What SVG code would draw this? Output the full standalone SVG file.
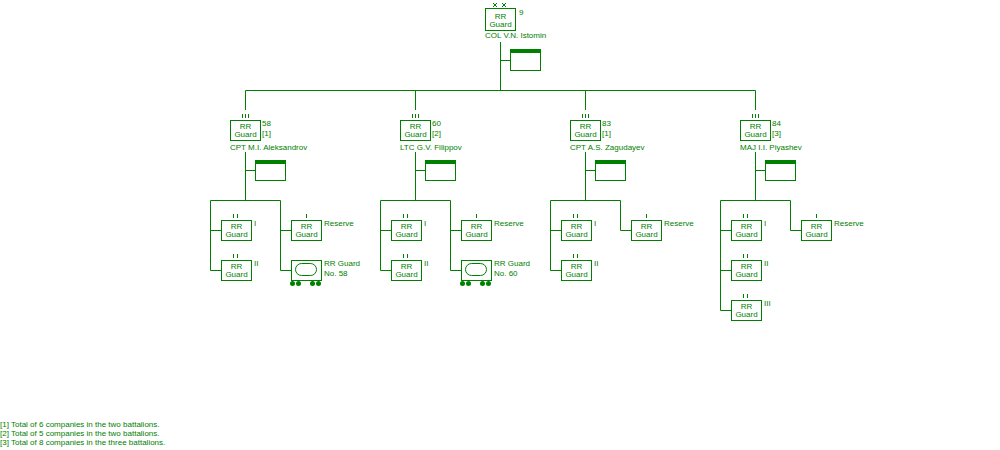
<svg xmlns="http://www.w3.org/2000/svg" width="1000" height="450" viewBox="0 0 1000 450">
<style>
text{font-family:"Liberation Sans",Arial,sans-serif;font-size:8px;fill:#008000}
.c{text-anchor:middle}
.b{fill:#fff;stroke:#008000;stroke-width:1}
.band{fill:#008000}
.l{fill:none;stroke:#008000;stroke-width:1}
.w{fill:#008000}
</style>
<rect width="1000" height="450" fill="#fff"/>
<g id="connectors" class="l">
<path d="M245.5 90.5H755.5M500.5 42V90.5M500.5 60.5H510"/>
<path d="M245.5 90.5V110M245.5 152V200.5M245.5 170.5H255M210.5 200.5H280.5M210.5 200.5V270.5M210.5 230.5H221M210.5 270.5H221M280.5 200.5V270.5M280.5 230.5H291M280.5 270.5H291"/>
<path d="M415.5 90.5V110M415.5 152V200.5M415.5 170.5H425M380.5 200.5H450.5M380.5 200.5V270.5M380.5 230.5H391M380.5 270.5H391M450.5 200.5V270.5M450.5 230.5H461M450.5 270.5H461"/>
<path d="M585.5 90.5V110M585.5 152V200.5M585.5 170.5H595M550.5 200.5H620.5M550.5 200.5V270.5M550.5 230.5H561M550.5 270.5H561M620.5 200.5V230.5M620.5 230.5H631"/>
<path d="M755.5 90.5V110M755.5 152V200.5M755.5 170.5H765M720.5 200.5H790.5M720.5 200.5V310.5M720.5 230.5H731M720.5 270.5H731M720.5 310.5H731M790.5 200.5V230.5M790.5 230.5H801"/>
</g>
<g id="regiment">
<path class="l" d="M493 3L497 7M497 3L493 7M502 3L506 7M506 3L502 7"/>
<rect class="b" x="485.5" y="8.5" width="30" height="22"/>
<text class="c" x="500.5" y="19">RR</text><text class="c" x="500.5" y="27">Guard</text>
<text x="519" y="15">9</text>
<text x="485" y="38">COL V.N. Istomin</text>
</g>
<g id="regiment-staff"><rect class="b" x="510.5" y="49.5" width="30" height="21"/><rect class="band" x="510" y="49" width="31" height="4"/></g>

<g id="bn58">
<path class="l" d="M242.5 114V118M245.5 114V118M248.5 114V118"/>
<rect class="b" x="230.5" y="120.5" width="30" height="20"/>
<text class="c" x="245.5" y="129">RR</text><text class="c" x="245.5" y="137">Guard</text>
<text x="262" y="126">58</text><text x="262" y="136">[1]</text>
<text x="230" y="150">CPT M.I. Aleksandrov</text>
</g>
<g id="bn58-staff"><rect class="b" x="255.5" y="160.5" width="30" height="20"/><rect class="band" x="255" y="160" width="31" height="4"/></g>
<g id="bn58-co1"><path class="l" d="M233.5 214V218M237.5 214V218"/><rect class="b" x="221.5" y="220.5" width="30" height="20"/><text class="c" x="236.5" y="229">RR</text><text class="c" x="236.5" y="237">Guard</text><text x="254" y="226">I</text></g>
<g id="bn58-co2"><path class="l" d="M233.5 254V258M237.5 254V258"/><rect class="b" x="221.5" y="260.5" width="30" height="20"/><text class="c" x="236.5" y="269">RR</text><text class="c" x="236.5" y="277">Guard</text><text x="254" y="266">II</text></g>
<g id="bn58-res"><path class="l" d="M306.5 214V218"/><rect class="b" x="291.5" y="220.5" width="30" height="20"/><text class="c" x="306.5" y="229">RR</text><text class="c" x="306.5" y="237">Guard</text><text x="324" y="226">Reserve</text></g>
<g id="bn58-train"><rect class="b" x="291.5" y="260.5" width="30" height="20"/><rect class="l" x="295.5" y="263.5" width="21" height="12" rx="6"/><circle class="w" cx="292.5" cy="283.5" r="2.5"/><circle class="w" cx="298.5" cy="283.5" r="2.5"/><circle class="w" cx="312.5" cy="283.5" r="2.5"/><circle class="w" cx="318.5" cy="283.5" r="2.5"/><text x="324" y="266">RR Guard</text><text x="324" y="276">No. 58</text></g>

<g id="bn60">
<path class="l" d="M412.5 114V118M415.5 114V118M418.5 114V118"/>
<rect class="b" x="400.5" y="120.5" width="30" height="20"/>
<text class="c" x="415.5" y="129">RR</text><text class="c" x="415.5" y="137">Guard</text>
<text x="432" y="126">60</text><text x="432" y="136">[2]</text>
<text x="400" y="150">LTC G.V. Filippov</text>
</g>
<g id="bn60-staff"><rect class="b" x="425.5" y="160.5" width="30" height="20"/><rect class="band" x="425" y="160" width="31" height="4"/></g>
<g id="bn60-co1"><path class="l" d="M403.5 214V218M407.5 214V218"/><rect class="b" x="391.5" y="220.5" width="30" height="20"/><text class="c" x="406.5" y="229">RR</text><text class="c" x="406.5" y="237">Guard</text><text x="424" y="226">I</text></g>
<g id="bn60-co2"><path class="l" d="M403.5 254V258M407.5 254V258"/><rect class="b" x="391.5" y="260.5" width="30" height="20"/><text class="c" x="406.5" y="269">RR</text><text class="c" x="406.5" y="277">Guard</text><text x="424" y="266">II</text></g>
<g id="bn60-res"><path class="l" d="M476.5 214V218"/><rect class="b" x="461.5" y="220.5" width="30" height="20"/><text class="c" x="476.5" y="229">RR</text><text class="c" x="476.5" y="237">Guard</text><text x="494" y="226">Reserve</text></g>
<g id="bn60-train"><rect class="b" x="461.5" y="260.5" width="30" height="20"/><rect class="l" x="465.5" y="263.5" width="21" height="12" rx="6"/><circle class="w" cx="462.5" cy="283.5" r="2.5"/><circle class="w" cx="468.5" cy="283.5" r="2.5"/><circle class="w" cx="482.5" cy="283.5" r="2.5"/><circle class="w" cx="488.5" cy="283.5" r="2.5"/><text x="494" y="266">RR Guard</text><text x="494" y="276">No. 60</text></g>

<g id="bn83">
<path class="l" d="M582.5 114V118M585.5 114V118M588.5 114V118"/>
<rect class="b" x="570.5" y="120.5" width="30" height="20"/>
<text class="c" x="585.5" y="129">RR</text><text class="c" x="585.5" y="137">Guard</text>
<text x="602" y="126">83</text><text x="602" y="136">[1]</text>
<text x="570" y="150">CPT A.S. Zagudayev</text>
</g>
<g id="bn83-staff"><rect class="b" x="595.5" y="160.5" width="30" height="20"/><rect class="band" x="595" y="160" width="31" height="4"/></g>
<g id="bn83-co1"><path class="l" d="M573.5 214V218M577.5 214V218"/><rect class="b" x="561.5" y="220.5" width="30" height="20"/><text class="c" x="576.5" y="229">RR</text><text class="c" x="576.5" y="237">Guard</text><text x="594" y="226">I</text></g>
<g id="bn83-co2"><path class="l" d="M573.5 254V258M577.5 254V258"/><rect class="b" x="561.5" y="260.5" width="30" height="20"/><text class="c" x="576.5" y="269">RR</text><text class="c" x="576.5" y="277">Guard</text><text x="594" y="266">II</text></g>
<g id="bn83-res"><path class="l" d="M646.5 214V218"/><rect class="b" x="631.5" y="220.5" width="30" height="20"/><text class="c" x="646.5" y="229">RR</text><text class="c" x="646.5" y="237">Guard</text><text x="664" y="226">Reserve</text></g>

<g id="bn84">
<path class="l" d="M752.5 114V118M755.5 114V118M758.5 114V118"/>
<rect class="b" x="740.5" y="120.5" width="30" height="20"/>
<text class="c" x="755.5" y="129">RR</text><text class="c" x="755.5" y="137">Guard</text>
<text x="772" y="126">84</text><text x="772" y="136">[3]</text>
<text x="740" y="150">MAJ I.I. Piyashev</text>
</g>
<g id="bn84-staff"><rect class="b" x="765.5" y="160.5" width="30" height="20"/><rect class="band" x="765" y="160" width="31" height="4"/></g>
<g id="bn84-co1"><path class="l" d="M743.5 214V218M747.5 214V218"/><rect class="b" x="731.5" y="220.5" width="30" height="20"/><text class="c" x="746.5" y="229">RR</text><text class="c" x="746.5" y="237">Guard</text><text x="764" y="226">I</text></g>
<g id="bn84-co2"><path class="l" d="M743.5 254V258M747.5 254V258"/><rect class="b" x="731.5" y="260.5" width="30" height="20"/><text class="c" x="746.5" y="269">RR</text><text class="c" x="746.5" y="277">Guard</text><text x="764" y="266">II</text></g>
<g id="bn84-co3"><path class="l" d="M743.5 294V298M747.5 294V298"/><rect class="b" x="731.5" y="300.5" width="30" height="20"/><text class="c" x="746.5" y="309">RR</text><text class="c" x="746.5" y="317">Guard</text><text x="764" y="306">III</text></g>
<g id="bn84-res"><path class="l" d="M816.5 214V218"/><rect class="b" x="801.5" y="220.5" width="30" height="20"/><text class="c" x="816.5" y="229">RR</text><text class="c" x="816.5" y="237">Guard</text><text x="834" y="226">Reserve</text></g>

<g id="notes">
<text x="0" y="427">[1] Total of 6 companies in the two battalions.</text>
<text x="0" y="436">[2] Total of 5 companies in the two battalions.</text>
<text x="0" y="445">[3] Total of 8 companies in the three battalions.</text>
</g>
</svg>
